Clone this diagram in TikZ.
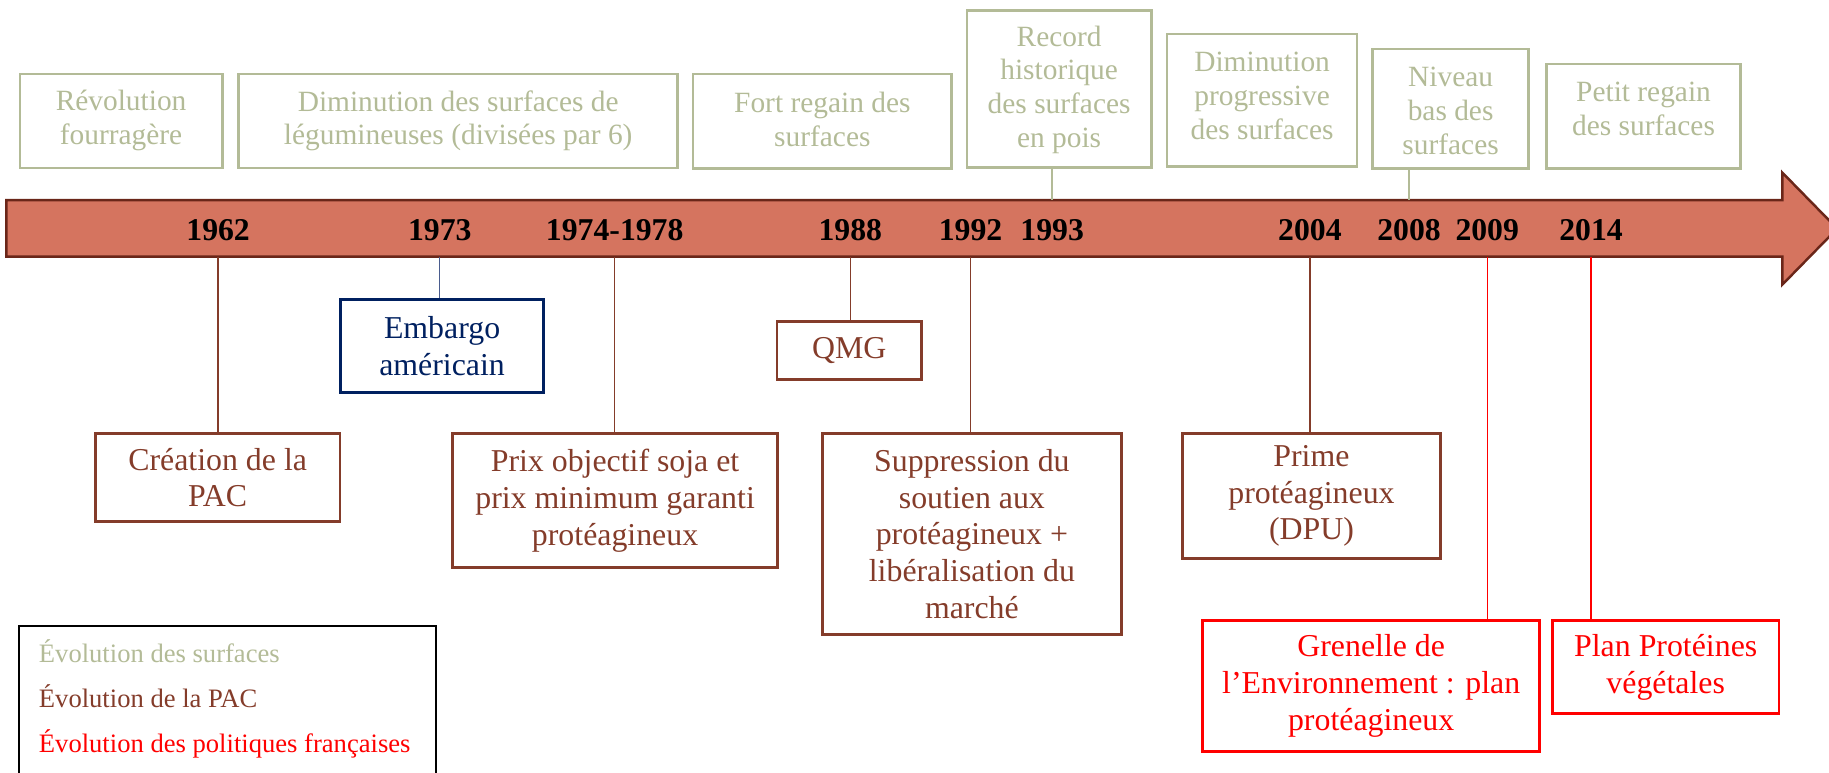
\documentclass[tikz,border=0pt]{standalone}
\usepackage{fontspec}
\setmainfont{Liberation Serif}
\definecolor{surfc}{HTML}{B3BB97}
\definecolor{pacc}{HTML}{843C2A}
\definecolor{navyc}{HTML}{002060}
\definecolor{redc}{HTML}{FF0000}
\definecolor{arrfill}{HTML}{D5745F}
\definecolor{arrdraw}{HTML}{6A2619}
\definecolor{navyline}{HTML}{4A5C8E}
\tikzset{
  surfbox/.style={draw=surfc, line width=1.15pt, inner sep=0pt},
  surftxt/.style={text=surfc, font=\fontsize{12.6}{14.5}\selectfont, align=center, inner sep=0pt},
  evbox/.style={line width=1.2pt, font=\fontsize{13.65}{15.8}\selectfont, align=center, inner sep=0pt},
  pacbox/.style={evbox, draw=pacc, text=pacc},
  navybox/.style={evbox, draw=navyc, text=navyc},
  redbox/.style={evbox, draw=redc, text=redc},
  yeartxt/.style={font=\fontsize{13.6}{15}\selectfont\bfseries, inner sep=0pt},
  legtxt/.style={font=\fontsize{11.4}{13}\selectfont, anchor=west, inner sep=0pt},
  conn/.style={line width=0.6pt},
}
\begin{document}
\begin{tikzpicture}[x=0.5pt,y=-0.5pt]
\useasboundingbox (0,0) rectangle (1568,662);
% arrow
\draw[fill=arrfill, draw=arrdraw, line width=1.05pt, line join=miter]
  (5.4,171.5) -- (1528,171.5) -- (1528,148) -- (1575,196) -- (1528,244) -- (1528,220) -- (5.4,220) -- cycle;
\coordinate (at) at (0,171.5);
\coordinate (ab) at (0,220);
% years
\node[yeartxt] (y1962) at (187,197) {1962};
\node[yeartxt] (y1973) at (377,197) {1973};
\node[yeartxt] (y1974) at (527,197) {1974-1978};
\node[yeartxt] (y1988) at (729,197) {1988};
\node[yeartxt] (y1992) at (832,197) {1992};
\node[yeartxt] (y1993) at (902,197) {1993};
\node[yeartxt] (y2004) at (1123,197) {2004};
\node[yeartxt] (y2008) at (1208,197) {2008};
\node[yeartxt] (y2009) at (1275,197) {2009};
\node[yeartxt] (y2014) at (1364,197) {2014};
% top boxes (surfaces)
\node[surfbox, minimum width=86.75pt, minimum height=40.3pt] (t1) at (103.8,103.7) {};
\node[surftxt] at (103.8,103.6) {Révolution\\fourragère};
\node[surfbox, minimum width=188.1pt, minimum height=40.3pt] (t2) at (392.8,103.7) {};
\node[surftxt] at (392.8,103.6) {Diminution des surfaces de\\légumineuses (divisées par 6)};
\node[surfbox, minimum width=110.9pt, minimum height=40.45pt] (t3) at (705,103.9) {};
\node[surftxt] at (705,102.2) {Fort regain des\\surfaces};
\node[surfbox, minimum width=78.9pt, minimum height=67.35pt] (t4) at (908,76.5) {};
\node[surftxt] at (908,76.9) {Record\\historique\\des surfaces\\en pois};
\node[surfbox, minimum width=81.5pt, minimum height=56.9pt] (t5) at (1081.9,86) {};
\node[surftxt] at (1082,82.2) {Diminution\\progressive\\des surfaces};
\node[surfbox, minimum width=66.75pt, minimum height=51.3pt] (t6) at (1243.6,93.3) {};
\node[surftxt] at (1243.6,95.3) {Niveau\\bas des\\surfaces};
\node[surfbox, minimum width=83.35pt, minimum height=44.9pt] (t7) at (1409,99.7) {};
\node[surftxt] at (1409,93.3) {Petit regain\\des surfaces};
% top connectors
\draw[conn, surfc] (t4.south -| y1993) -- (y1993 |- at);
\draw[conn, surfc] (t6.south -| y2008) -- (y2008 |- at);
% bottom boxes
\node[navybox, minimum width=86.9pt, minimum height=39.9pt] (b1973) at (379,296.8) {Embargo\\américain};
\node[pacbox, minimum width=104.9pt, minimum height=37.9pt] (b1962) at (186.6,409.4) {Création de la\\PAC};
\node[pacbox, minimum width=139.15pt, minimum height=57.4pt] (b1974) at (527.3,429) {Prix objectif soja et\\prix minimum garanti\\protéagineux};
\node[pacbox, minimum width=61.9pt, minimum height=25.05pt] (b1988) at (728,300.5) {QMG};
\node[pacbox, minimum width=128.25pt, minimum height=86.3pt] (b1992) at (833.2,457.8) {Suppression du\\soutien aux\\protéagineux +\\libéralisation du\\marché};
\node[pacbox, minimum width=110.55pt, minimum height=53.7pt] (b2004) at (1124.3,425.2) {Prime\\protéagineux\\(DPU)};
\node[redbox, minimum width=144.35pt, minimum height=56.05pt] (b2009) at (1175.5,587.9) {Grenelle de\\l’Environnement : plan\\protéagineux};
\node[redbox, minimum width=97.05pt, minimum height=40.05pt] (b2014) at (1428,571.9) {Plan Protéines\\végétales};
% bottom connectors
\draw[conn, pacc] (y1962 |- ab) -- (y1962 |- b1962.north);
\draw[conn, navyline] (y1973 |- ab) -- (y1973 |- b1973.north);
\draw[conn, pacc] (y1974 |- ab) -- (y1974 |- b1974.north);
\draw[conn, pacc] (y1988 |- ab) -- (y1988 |- b1988.north);
\draw[conn, pacc] (y1992 |- ab) -- (y1992 |- b1992.north);
\draw[conn, pacc] (y2004 |- ab) -- (y2004 |- b2004.north);
\draw[conn, redc] (y2009 |- ab) -- (y2009 |- b2009.north);
\draw[conn, redc] (y2014 |- ab) -- (y2014 |- b2014.north);
% legend
\node[draw=black, line width=0.85pt, minimum width=178.6pt, minimum height=75pt, inner sep=0pt, anchor=north west] (leg) at (15.8,535.8) {};
\node[legtxt, text=surfc] (l1) at (33,558.7) {Évolution des surfaces};
\node[legtxt, text=pacc] (l2) at (33,597.2) {Évolution de la PAC};
\node[legtxt, text=redc] (l3) at (33,638) {Évolution des politiques françaises};
\end{tikzpicture}
\end{document}
